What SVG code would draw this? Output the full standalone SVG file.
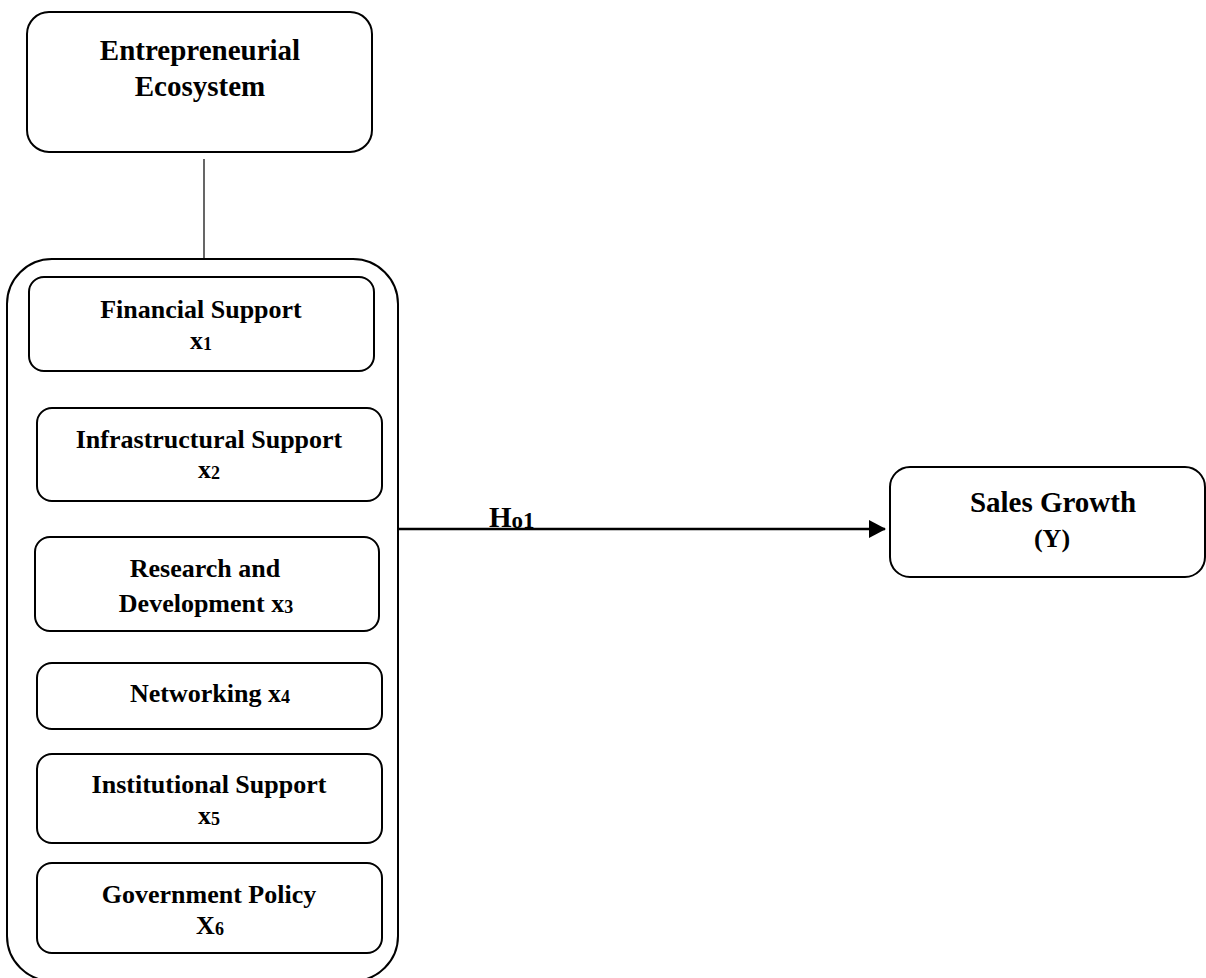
<svg xmlns="http://www.w3.org/2000/svg" width="1206" height="978" viewBox="0 0 1206 978">
<defs>
<style>
.box{fill:#fff;stroke:#000;stroke-width:2}
.t{font-family:"Liberation Serif","Times New Roman",serif;font-weight:bold;font-size:26px;fill:#000;text-anchor:middle}
.big{font-size:29px}
.sub{font-size:18px}
.conn{stroke:#000;fill:none}
</style>
<marker id="arr" markerWidth="17" markerHeight="18" refX="16" refY="9" orient="auto" markerUnits="userSpaceOnUse" viewBox="0 0 17 18">
<path d="M0,0 L17,9 L0,18 Z" fill="#000"/>
</marker>
</defs>
<rect width="1206" height="978" fill="#fff"/>
<g id="connectors">
<line class="conn" x1="204" y1="159" x2="204" y2="259" stroke-width="1.2"/>
<line class="conn" x1="398" y1="529" x2="885" y2="529" stroke-width="2.6" marker-end="url(#arr)"/>
<text class="t" x="489" y="527" style="text-anchor:start;font-size:29px">H<tspan font-size="23" dy="1">o1</tspan></text>
</g>
<g id="ecosystem">
<rect class="box" x="27" y="12" width="345" height="140" rx="22"/>
<text class="t big" x="200" y="60">Entrepreneurial</text>
<text class="t big" x="200" y="96">Ecosystem</text>
</g>
<g id="container">
<rect class="box" x="7" y="259" width="391" height="722" rx="45"/>
</g>
<g id="financial">
<rect class="box" x="29" y="277" width="345" height="94" rx="15"/>
<text class="t" x="201" y="318">Financial Support</text>
<text class="t" x="201" y="349">x<tspan class="sub" dy="1">1</tspan></text>
</g>
<g id="infrastructural">
<rect class="box" x="37" y="408" width="345" height="93" rx="15"/>
<text class="t" x="209" y="448">Infrastructural Support</text>
<text class="t" x="209" y="478">x<tspan class="sub" dy="1">2</tspan></text>
</g>
<g id="research">
<rect class="box" x="35" y="537" width="344" height="94" rx="15"/>
<text class="t" x="205" y="577">Research and</text>
<text class="t" x="206" y="612">Development x<tspan class="sub" dy="1">3</tspan></text>
</g>
<g id="networking">
<rect class="box" x="37" y="663" width="345" height="66" rx="15"/>
<text class="t" x="210" y="702">Networking x<tspan class="sub" dy="1">4</tspan></text>
</g>
<g id="institutional">
<rect class="box" x="37" y="754" width="345" height="89" rx="15"/>
<text class="t" x="209" y="793">Institutional Support</text>
<text class="t" x="209" y="824">x<tspan class="sub" dy="1">5</tspan></text>
</g>
<g id="government">
<rect class="box" x="37" y="863" width="345" height="90" rx="15"/>
<text class="t" x="209" y="903">Government Policy</text>
<text class="t" x="210" y="934">X<tspan class="sub" dy="1">6</tspan></text>
</g>
<g id="sales">
<rect class="box" x="890" y="467" width="315" height="110" rx="20"/>
<text class="t big" x="1053" y="512">Sales Growth</text>
<text class="t" x="1052" y="547">(Y)</text>
</g>
</svg>
